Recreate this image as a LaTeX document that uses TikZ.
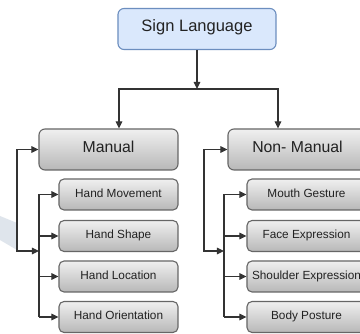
\documentclass[tikz,border=0pt]{standalone}
\usepackage{fontspec}
\setmainfont{Liberation Sans}
\usetikzlibrary{arrows.meta,calc}
\definecolor{txt}{HTML}{222222}
\definecolor{lin}{HTML}{333333}
\definecolor{bord}{HTML}{666666}
\definecolor{blfill}{HTML}{DAE8FC}
\definecolor{blbord}{HTML}{6C8EBF}
\definecolor{wmark}{HTML}{DFE5EC}
\begin{document}
\begin{tikzpicture}[x=1pt,y=-1pt,
  topbox/.style={draw=blbord,fill=blfill,line width=1.1pt,rounded corners=6pt,
    minimum width=158pt,minimum height=41pt,inner sep=0pt,text=txt,
    font=\fontsize{16.5}{18}\selectfont,text height=0.72em,text depth=0.2em},
  mainbox/.style={draw=bord,line width=1.1pt,rounded corners=6pt,
    top color=white!94!black,bottom color=black!28,
    minimum width=139pt,minimum height=41pt,inner sep=0pt,text=txt,
    font=\fontsize{15.8}{18}\selectfont,text height=0.72em,text depth=0.2em},
  subbox/.style={draw=bord,line width=1.1pt,rounded corners=5pt,
    top color=white!94!black,bottom color=black!28,
    minimum width=119pt,minimum height=31pt,inner sep=0pt,text=txt,
    font=\fontsize{11.8}{14}\selectfont,text height=0.72em,text depth=0.2em},
  conn/.style={draw=lin,line width=1.1pt},
  tip/.tip={Triangle[length=7pt,width=6.5pt]}
]
\useasboundingbox (0,0) rectangle (360,334);
\clip (0,0) rectangle (360,334);
\fill[white] (0,0) rectangle (360,334);
\fill[wmark] (0,216) -- (17,223) -- (17,250) -- (0,240) -- cycle;

\node[topbox] (sl) at (197,29) {Sign Language};
\node[mainbox] (man) at (108.5,149.5) {Manual};
\node[mainbox] (nm) at (297.5,149.5) {Non- Manual};

\node[subbox] (hm) at (118.5,194.5) {Hand Movement};
\node[subbox] (hs) at (118.5,236) {Hand Shape};
\node[subbox] (hl) at (118.5,276.5) {Hand Location};
\node[subbox] (ho) at (118.5,317) {Hand Orientation};

\node[subbox] (mg) at (306.5,194.5) {Mouth Gesture};
\node[subbox] (fe) at (306.5,236) {Face Expression};
\node[subbox] (se) at (306.5,276.5) {Shoulder Expression};
\node[subbox] (bp) at (306.5,317) {Body Posture};

% top tree
\coordinate (j) at (197,89);
\draw[conn,-tip] (sl) -- (j);
\draw[conn,-tip] (j) -| ($(man.north)+(10.5,0)$);
\draw[conn,-tip] (j) -| ($(nm.north)+(-19.5,0)$);

% left side
\coordinate (lib) at (39,317);
\coordinate (lol) at (39,251);
\coordinate (lov) at (17,251);
\draw[conn,tip-tip] (lol) -- (lov) |- (man.west);
\foreach \s in {hm,hs,hl,ho} \draw[conn,-tip] (lib) |- (\s.west);

% right side
\coordinate (rib) at (224,317);
\coordinate (rol) at (224,251);
\coordinate (rov) at (204,251);
\draw[conn,tip-tip] (rol) -- (rov) |- (nm.west);
\foreach \s in {mg,fe,se,bp} \draw[conn,-tip] (rib) |- (\s.west);
\end{tikzpicture}
\end{document}
